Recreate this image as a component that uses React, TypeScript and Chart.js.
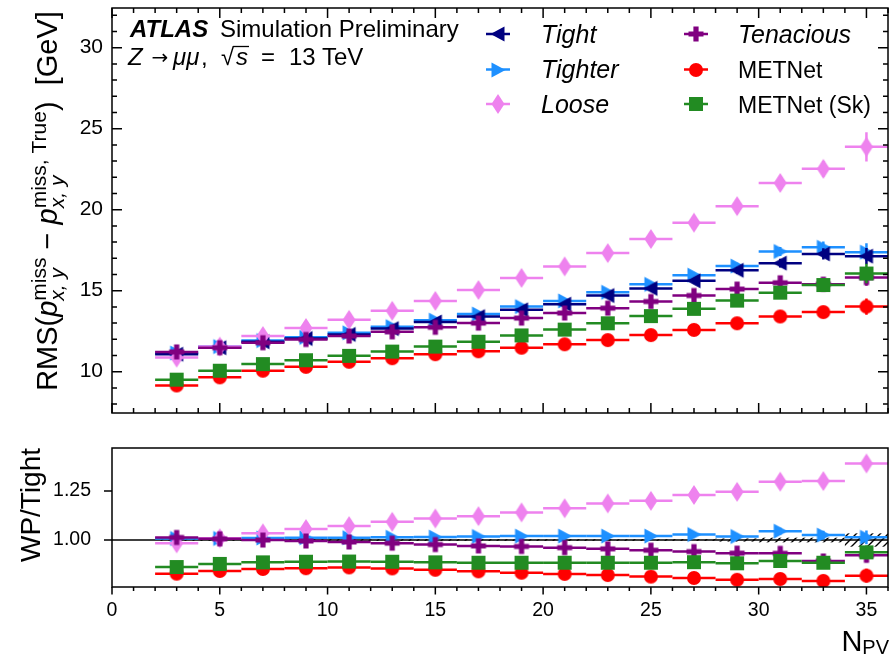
import React, { useEffect, useRef } from "react";
import { Chart, registerables } from "chart.js";
Chart.register(...registerables);

const FONT = '"Liberation Sans", Arial, Helvetica, sans-serif';

// ---------------- data ----------------
const nPV = [3, 5, 7, 9, 11, 13, 15, 17, 19, 21, 23, 25, 27, 29, 31, 33, 35];
const binHalfWidth = 1;

const seriesNames = ["Tight", "Tighter", "Loose", "Tenacious", "METNet", "METNet (Sk)"];

const rmsTight = [11.08, 11.48, 11.85, 12.05, 12.3, 12.66, 13.07, 13.4, 13.82, 14.17, 14.7, 15.14, 15.61, 16.26, 16.7, 17.27, 17.13];
const rmsTighter = [11.15, 11.55, 11.92, 12.12, 12.4, 12.78, 13.18, 13.56, 14.02, 14.37, 14.9, 15.39, 15.96, 16.52, 17.42, 17.68, 17.38];
const rmsLoose = [10.87, 11.55, 12.2, 12.7, 13.2, 13.76, 14.37, 15.04, 15.79, 16.5, 17.32, 18.19, 19.2, 20.22, 21.65, 22.52, 23.88];
const rmsTenacious = [11.22, 11.48, 11.79, 11.99, 12.2, 12.46, 12.74, 13.0, 13.31, 13.62, 13.92, 14.33, 14.7, 15.1, 15.49, 15.4, 15.81];
const rmsMETNet = [9.15, 9.65, 10.06, 10.3, 10.61, 10.83, 11.08, 11.26, 11.48, 11.69, 11.95, 12.26, 12.58, 12.99, 13.41, 13.68, 14.02];
const rmsMETNetSk = [9.51, 10.06, 10.47, 10.71, 10.98, 11.24, 11.55, 11.85, 12.24, 12.6, 12.99, 13.43, 13.88, 14.39, 14.88, 15.35, 16.06];

const errTight = [0.04, 0.04, 0.04, 0.05, 0.05, 0.06, 0.07, 0.08, 0.09, 0.1, 0.12, 0.14, 0.17, 0.21, 0.27, 0.35, 0.5];
const errTighter = [0.04, 0.04, 0.04, 0.05, 0.05, 0.06, 0.07, 0.08, 0.09, 0.1, 0.12, 0.14, 0.17, 0.21, 0.28, 0.36, 0.55];
const errLoose = [0.04, 0.04, 0.05, 0.05, 0.06, 0.07, 0.08, 0.09, 0.11, 0.13, 0.15, 0.18, 0.22, 0.28, 0.36, 0.48, 0.9];
const errTenacious = [0.04, 0.04, 0.04, 0.05, 0.05, 0.06, 0.06, 0.07, 0.08, 0.09, 0.11, 0.13, 0.15, 0.19, 0.25, 0.32, 0.5];
const errMETNet = [0.03, 0.03, 0.04, 0.04, 0.05, 0.05, 0.06, 0.07, 0.08, 0.09, 0.1, 0.12, 0.14, 0.18, 0.23, 0.3, 0.5];
const errMETNetSk = [0.03, 0.03, 0.04, 0.04, 0.05, 0.05, 0.06, 0.07, 0.08, 0.09, 0.1, 0.12, 0.15, 0.18, 0.24, 0.31, 0.6];

// ratio WP / Tight
const ratioTighter = [1.008, 1.008, 1.01, 1.012, 1.012, 1.014, 1.015, 1.018, 1.02, 1.02, 1.02, 1.02, 1.028, 1.018, 1.045, 1.025, 1.014];
const ratioLoose = [0.983, 1.009, 1.034, 1.056, 1.071, 1.093, 1.11, 1.122, 1.141, 1.162, 1.187, 1.2, 1.23, 1.246, 1.298, 1.301, 1.391];
const ratioTenacious = [1.013, 1.006, 1.0, 0.995, 0.99, 0.984, 0.977, 0.97, 0.967, 0.961, 0.955, 0.948, 0.941, 0.933, 0.932, 0.893, 0.922];
const ratioMETNet = [0.828, 0.842, 0.852, 0.856, 0.86, 0.855, 0.848, 0.84, 0.833, 0.827, 0.821, 0.813, 0.806, 0.797, 0.801, 0.791, 0.818];
const ratioMETNetSk = [0.862, 0.878, 0.886, 0.889, 0.89, 0.889, 0.886, 0.884, 0.884, 0.884, 0.884, 0.884, 0.887, 0.881, 0.893, 0.884, 0.937];
const ratioErr = [0.004, 0.004, 0.004, 0.005, 0.005, 0.005, 0.006, 0.006, 0.007, 0.008, 0.009, 0.01, 0.012, 0.014, 0.018, 0.022, 0.035];
const tightRelUnc = [0.004, 0.004, 0.004, 0.004, 0.004, 0.004, 0.004, 0.004, 0.004, 0.004, 0.004, 0.004, 0.004, 0.008, 0.012, 0.012, 0.034];

// axis ticks
const xMajorTicks = [0, 5, 10, 15, 20, 25, 30, 35];
const xMinorTicks = [0, 1, 2, 3, 4, 5, 6, 7, 8, 9, 10, 11, 12, 13, 14, 15, 16, 17, 18, 19, 20, 21, 22, 23, 24, 25, 26, 27, 28, 29, 30, 31, 32, 33, 34, 35, 36];
const yMajorTop = [10, 15, 20, 25, 30];
const yMinorTop = [8, 9, 10, 11, 12, 13, 14, 15, 16, 17, 18, 19, 20, 21, 22, 23, 24, 25, 26, 27, 28, 29, 30, 31, 32];
const yMajorBottom = [1.0, 1.25];
const xRange = [0, 36];
const yRangeTop = [7.45, 32.45];
const yRangeBottom = [0.76, 1.47];

// ---------------- styles ----------------
const colors = ["#000080", "#1e90ff", "#ee82ee", "#800080", "#ff0000", "#228b22"];
const shapes = ["triL", "triR", "diamond", "plus", "circle", "square"];
const drawOrder = [4, 5, 3, 2, 1, 0]; // lower = on top

function makeMarker(shape: string, color: string): HTMLCanvasElement {
  const S = 24;
  const c = document.createElement("canvas");
  c.width = S;
  c.height = S;
  const g = c.getContext("2d")!;
  const m = S / 2;
  g.fillStyle = color;
  g.beginPath();
  switch (shape) {
    case "triL":
      g.moveTo(m - 7.5, m); g.lineTo(m + 6.5, m - 7.5); g.lineTo(m + 6.5, m + 7.5); g.closePath();
      break;
    case "triR":
      g.moveTo(m + 7.5, m); g.lineTo(m - 6.5, m - 7.5); g.lineTo(m - 6.5, m + 7.5); g.closePath();
      break;
    case "diamond":
      g.moveTo(m, m - 10); g.lineTo(m + 6.5, m); g.lineTo(m, m + 10); g.lineTo(m - 6.5, m); g.closePath();
      break;
    case "plus": {
      const a = 7.5, t = 2.6;
      g.moveTo(m - t, m - a); g.lineTo(m + t, m - a); g.lineTo(m + t, m - t); g.lineTo(m + a, m - t);
      g.lineTo(m + a, m + t); g.lineTo(m + t, m + t); g.lineTo(m + t, m + a); g.lineTo(m - t, m + a);
      g.lineTo(m - t, m + t); g.lineTo(m - a, m + t); g.lineTo(m - a, m - t); g.lineTo(m - t, m - t);
      g.closePath();
      break;
    }
    case "circle":
      g.arc(m, m, 7, 0, Math.PI * 2);
      break;
    case "square":
      g.rect(m - 7, m - 7, 14, 14);
      break;
  }
  g.fill();
  return c;
}

type Piece = { t: string; font: string; dy?: number };
type Seg = Piece | { stack: Piece[] };

function segWidth(ctx: CanvasRenderingContext2D, s: Seg): number {
  if ("stack" in s) return Math.max(...s.stack.map((p) => segWidth(ctx, p)));
  ctx.font = s.font;
  return ctx.measureText(s.t).width;
}
function drawRich(ctx: CanvasRenderingContext2D, segs: Seg[], x: number, y: number) {
  let cx = x;
  ctx.textAlign = "left";
  ctx.textBaseline = "alphabetic";
  for (const s of segs) {
    const w = segWidth(ctx, s);
    const parts = "stack" in s ? s.stack : [s];
    for (const p of parts) {
      ctx.font = p.font;
      ctx.fillText(p.t, cx, y + (p.dy || 0));
    }
    cx += w;
  }
}

const errorBarPlugin = {
  id: "errbars",
  beforeDatasetDraw(chart: any, args: any) {
    const ds = chart.data.datasets[args.index];
    const xs = chart.scales.x, ys = chart.scales.y;
    const ctx = chart.ctx as CanvasRenderingContext2D;
    const a = chart.chartArea;
    ctx.save();
    ctx.beginPath();
    ctx.rect(a.left, a.top, a.right - a.left, a.bottom - a.top);
    ctx.clip();
    ctx.strokeStyle = ds.borderColor;
    ctx.lineWidth = 2.5;
    ds.data.forEach((p: any, j: number) => {
      const x0 = xs.getPixelForValue(p.x - binHalfWidth);
      const x1 = xs.getPixelForValue(p.x + binHalfWidth);
      const xc = xs.getPixelForValue(p.x);
      const y = ys.getPixelForValue(p.y);
      const yl = ys.getPixelForValue(p.y - ds.yErr[j]);
      const yh = ys.getPixelForValue(p.y + ds.yErr[j]);
      ctx.beginPath();
      ctx.moveTo(x0, y); ctx.lineTo(x1, y);
      ctx.moveTo(xc, yl); ctx.lineTo(xc, yh);
      ctx.stroke();
    });
    ctx.restore();
  },
};

function mkDataset(i: number, vals: number[], errs: number[], marker: HTMLCanvasElement) {
  return {
    label: seriesNames[i],
    data: nPV.map((x, j) => ({ x, y: vals[j] })),
    yErr: errs,
    borderColor: colors[i],
    backgroundColor: colors[i],
    pointStyle: marker,
    pointRadius: 7,
    order: drawOrder[i],
    showLine: false,
  } as any;
}

const zeroPad = (s: any) => {
  s.paddingTop = 0;
  s.paddingBottom = 0;
  s.paddingLeft = 0;
  s.paddingRight = 0;
};

export default function App() {
  const topRef = useRef<HTMLCanvasElement>(null);
  const botRef = useRef<HTMLCanvasElement>(null);

  useEffect(() => {
    const markers = shapes.map((s, i) => makeMarker(s, colors[i]));

    const R = (n: number) => `${n}px ${FONT}`;
    const I = (n: number) => `italic ${n}px ${FONT}`;

    const topDecor = {
      id: "topDecor",
      afterDraw(chart: any) {
        const ctx = chart.ctx as CanvasRenderingContext2D;
        const { left, right, top, bottom } = chart.chartArea;
        const xs = chart.scales.x, ys = chart.scales.y;
        ctx.save();
        ctx.strokeStyle = "#000";
        ctx.lineWidth = 1.5;
        ctx.strokeRect(left, top, right - left, bottom - top);
        ctx.beginPath();
        for (const v of xMinorTicks) {
          const len = xMajorTicks.includes(v) ? 10 : 5;
          const px = xs.getPixelForValue(v);
          ctx.moveTo(px, bottom); ctx.lineTo(px, bottom - len);
          ctx.moveTo(px, top); ctx.lineTo(px, top + len);
        }
        for (const v of yMinorTop) {
          const len = yMajorTop.includes(v) ? 10 : 5;
          const py = ys.getPixelForValue(v);
          ctx.moveTo(left, py); ctx.lineTo(left + len, py);
          ctx.moveTo(right, py); ctx.lineTo(right - len, py);
        }
        ctx.stroke();

        // ATLAS label
        ctx.fillStyle = "#000";
        ctx.textBaseline = "alphabetic";
        ctx.textAlign = "left";
        ctx.font = `italic bold 24px ${FONT}`;
        ctx.fillText("ATLAS", 130, 37);
        ctx.font = R(24);
        ctx.fillText("Simulation Preliminary", 220, 37);
        // line 2
        ctx.font = I(24);
        ctx.fillText("Z", 128, 65);
        ctx.font = `20px "DejaVu Sans", ${FONT}`;
        ctx.textAlign = "center";
        ctx.fillText("\u2192", 160, 64);
        ctx.textAlign = "left";
        ctx.font = I(24);
        ctx.fillText("\u03bc\u03bc", 173, 65);
        ctx.font = R(24);
        ctx.fillText(",", 201, 65);
        ctx.fillText("\u221a", 221, 65);
        ctx.font = I(24);
        ctx.fillText("s", 236, 65);
        ctx.lineWidth = 1.3;
        ctx.beginPath();
        ctx.moveTo(233, 46.5); ctx.lineTo(249, 46.5);
        ctx.stroke();
        ctx.font = R(24);
        ctx.fillText("=", 261, 65);
        ctx.fillText("13", 289, 65);
        ctx.fillText("TeV", 322, 65);

        // legend
        const rows = [34, 69.5, 104];
        const cols = [
          { mx: 498, tx: 541 },
          { mx: 696, tx: 738 },
        ];
        seriesNames.forEach((name, i) => {
          const col = cols[Math.floor(i / 3)];
          const cy = rows[i % 3];
          ctx.strokeStyle = colors[i];
          ctx.lineWidth = 2.5;
          ctx.beginPath();
          ctx.moveTo(col.mx - 12, cy); ctx.lineTo(col.mx + 12, cy);
          ctx.stroke();
          const mk = markers[i];
          ctx.drawImage(mk, Math.round(col.mx - mk.width / 2), Math.round(cy - mk.height / 2));
          ctx.fillStyle = "#000";
          ctx.font = i < 4 ? I(25) : R(23);
          ctx.textAlign = "left";
          ctx.fillText(name, col.tx, cy + 8.5);
        });

        // y-axis title
        const big = 29, small = 21;
        const segs: Seg[] = [
          { t: "RMS(", font: R(big) },
          { t: "p", font: I(big) },
          { stack: [{ t: "x, y", font: I(small), dy: 7 }, { t: "miss", font: R(small), dy: -11 }] },
          { t: " \u2212 ", font: R(big) },
          { t: "p", font: I(big) },
          { stack: [{ t: "x, y", font: I(small), dy: 7 }, { t: "miss, True", font: R(small), dy: -11 }] },
          { t: ")  [GeV]", font: R(big) },
        ];
        const total = segs.reduce((acc, s) => acc + segWidth(ctx, s), 0);
        ctx.save();
        ctx.translate(57, 201);
        ctx.rotate(-Math.PI / 2);
        ctx.fillStyle = "#000";
        drawRich(ctx, segs, -total / 2, 0);
        ctx.restore();
        ctx.restore();
      },
    };

    const botDecor = {
      id: "botDecor",
      beforeDatasetsDraw(chart: any) {
        const ctx = chart.ctx as CanvasRenderingContext2D;
        const { left, right } = chart.chartArea;
        const xs = chart.scales.x, ys = chart.scales.y;
        // hatch pattern
        const pc = document.createElement("canvas");
        pc.width = 8; pc.height = 8;
        const pg = pc.getContext("2d")!;
        pg.strokeStyle = "#000";
        pg.lineWidth = 1.4;
        pg.beginPath();
        pg.moveTo(-1, 9); pg.lineTo(9, -1);
        pg.moveTo(-1, 1); pg.lineTo(1, -1);
        pg.moveTo(7, 9); pg.lineTo(9, 7);
        pg.stroke();
        const pat = ctx.createPattern(pc, "repeat")!;
        ctx.save();
        ctx.fillStyle = pat;
        nPV.forEach((x, j) => {
          const x0 = xs.getPixelForValue(x - binHalfWidth);
          const x1 = xs.getPixelForValue(x + binHalfWidth);
          const y0 = ys.getPixelForValue(1 + tightRelUnc[j]);
          const y1 = ys.getPixelForValue(1 - tightRelUnc[j]);
          ctx.fillRect(x0, y0, x1 - x0, y1 - y0);
        });
        ctx.strokeStyle = "#000";
        ctx.lineWidth = 1.5;
        const y1p = ys.getPixelForValue(1);
        ctx.beginPath();
        ctx.moveTo(left, y1p); ctx.lineTo(right, y1p);
        ctx.stroke();
        ctx.restore();
      },
      afterDraw(chart: any) {
        const ctx = chart.ctx as CanvasRenderingContext2D;
        const { left, right, top, bottom } = chart.chartArea;
        const xs = chart.scales.x, ys = chart.scales.y;
        ctx.save();
        ctx.strokeStyle = "#000";
        ctx.lineWidth = 1.5;
        ctx.strokeRect(left, top, right - left, bottom - top);
        ctx.beginPath();
        for (const v of xMinorTicks) {
          const len = xMajorTicks.includes(v) ? 7.5 : 4;
          const px = xs.getPixelForValue(v);
          ctx.moveTo(px, bottom); ctx.lineTo(px, bottom + len);
        }
        for (const v of yMajorBottom) {
          const py = ys.getPixelForValue(v);
          ctx.moveTo(left, py); ctx.lineTo(left - 8, py);
        }
        ctx.stroke();
        // y title
        ctx.fillStyle = "#000";
        ctx.save();
        ctx.translate(40, 75);
        ctx.rotate(-Math.PI / 2);
        ctx.textAlign = "center";
        ctx.textBaseline = "alphabetic";
        ctx.font = R(28);
        ctx.fillText("WP/Tight", 0, 0);
        ctx.restore();
        // x title N_PV
        ctx.textAlign = "left";
        ctx.textBaseline = "alphabetic";
        ctx.font = R(29);
        const wN = ctx.measureText("N").width;
        ctx.font = R(20);
        const wPV = ctx.measureText("PV").width;
        const x0 = right + 1 - wN - wPV;
        ctx.font = R(29);
        ctx.fillText("N", x0, 221);
        ctx.font = R(20);
        ctx.fillText("PV", x0 + wN, 224);
        ctx.restore();
      },
    };

    const topChart = new Chart(topRef.current!, {
      type: "scatter",
      data: {
        datasets: [
          mkDataset(0, rmsTight, errTight, markers[0]),
          mkDataset(1, rmsTighter, errTighter, markers[1]),
          mkDataset(2, rmsLoose, errLoose, markers[2]),
          mkDataset(3, rmsTenacious, errTenacious, markers[3]),
          mkDataset(4, rmsMETNet, errMETNet, markers[4]),
          mkDataset(5, rmsMETNetSk, errMETNetSk, markers[5]),
        ],
      },
      options: {
        animation: false,
        responsive: false,
        devicePixelRatio: 1,
        events: [],
        layout: { padding: { top: 3, right: 3, left: 0, bottom: 0 } },
        plugins: { legend: { display: false }, tooltip: { enabled: false } },
        scales: {
          x: {
            type: "linear",
            min: xRange[0],
            max: xRange[1],
            ticks: { display: false },
            grid: { display: false, drawTicks: false },
            border: { display: false },
            afterFit: (s: any) => { s.height = 17; zeroPad(s); },
          },
          y: {
            type: "linear",
            min: yRangeTop[0],
            max: yRangeTop[1],
            afterBuildTicks: (s: any) => { s.ticks = yMajorTop.map((v) => ({ value: v })); },
            ticks: { color: "#000", font: { family: FONT, size: 21 }, padding: 9, callback: (v: any) => String(v) },
            grid: { display: false, drawTicks: false },
            border: { display: false },
            afterFit: (s: any) => { s.width = 112; zeroPad(s); },
          },
        },
      } as any,
      plugins: [errorBarPlugin, topDecor],
    });

    const botChart = new Chart(botRef.current!, {
      type: "scatter",
      data: {
        datasets: [
          mkDataset(1, ratioTighter, ratioErr, markers[1]),
          mkDataset(2, ratioLoose, ratioErr, markers[2]),
          mkDataset(3, ratioTenacious, ratioErr, markers[3]),
          mkDataset(4, ratioMETNet, ratioErr, markers[4]),
          mkDataset(5, ratioMETNetSk, ratioErr, markers[5]),
        ],
      },
      options: {
        animation: false,
        responsive: false,
        devicePixelRatio: 1,
        events: [],
        layout: { padding: { top: 18, right: 3, left: 0, bottom: 0 } },
        plugins: { legend: { display: false }, tooltip: { enabled: false } },
        scales: {
          x: {
            type: "linear",
            min: xRange[0],
            max: xRange[1],
            afterBuildTicks: (s: any) => { s.ticks = xMajorTicks.map((v) => ({ value: v })); },
            ticks: { color: "#000", font: { family: FONT, size: 19.5 }, padding: 12, autoSkip: false, maxRotation: 0, callback: (v: any) => String(v) },
            grid: { display: false, drawTicks: false },
            border: { display: false },
            afterFit: (s: any) => { s.height = 70; zeroPad(s); },
          },
          y: {
            type: "linear",
            min: yRangeBottom[0],
            max: yRangeBottom[1],
            afterBuildTicks: (s: any) => { s.ticks = yMajorBottom.map((v) => ({ value: v })); },
            ticks: { color: "#000", font: { family: FONT, size: 19.5 }, padding: 21, callback: (v: any) => Number(v).toFixed(2) },
            grid: { display: false, drawTicks: false },
            border: { display: false },
            afterFit: (s: any) => { s.width = 112; zeroPad(s); },
          },
        },
      } as any,
      plugins: [errorBarPlugin, botDecor],
    });

    return () => {
      topChart.destroy();
      botChart.destroy();
    };
  }, []);

  return (
    <div style={{ position: "fixed", left: 0, top: 0, width: 896, height: 657, background: "#fff" }}>
      <canvas ref={topRef} width={896} height={430} style={{ position: "absolute", left: 0, top: 0 }} />
      <canvas ref={botRef} width={896} height={227} style={{ position: "absolute", left: 0, top: 430 }} />
    </div>
  );
}
